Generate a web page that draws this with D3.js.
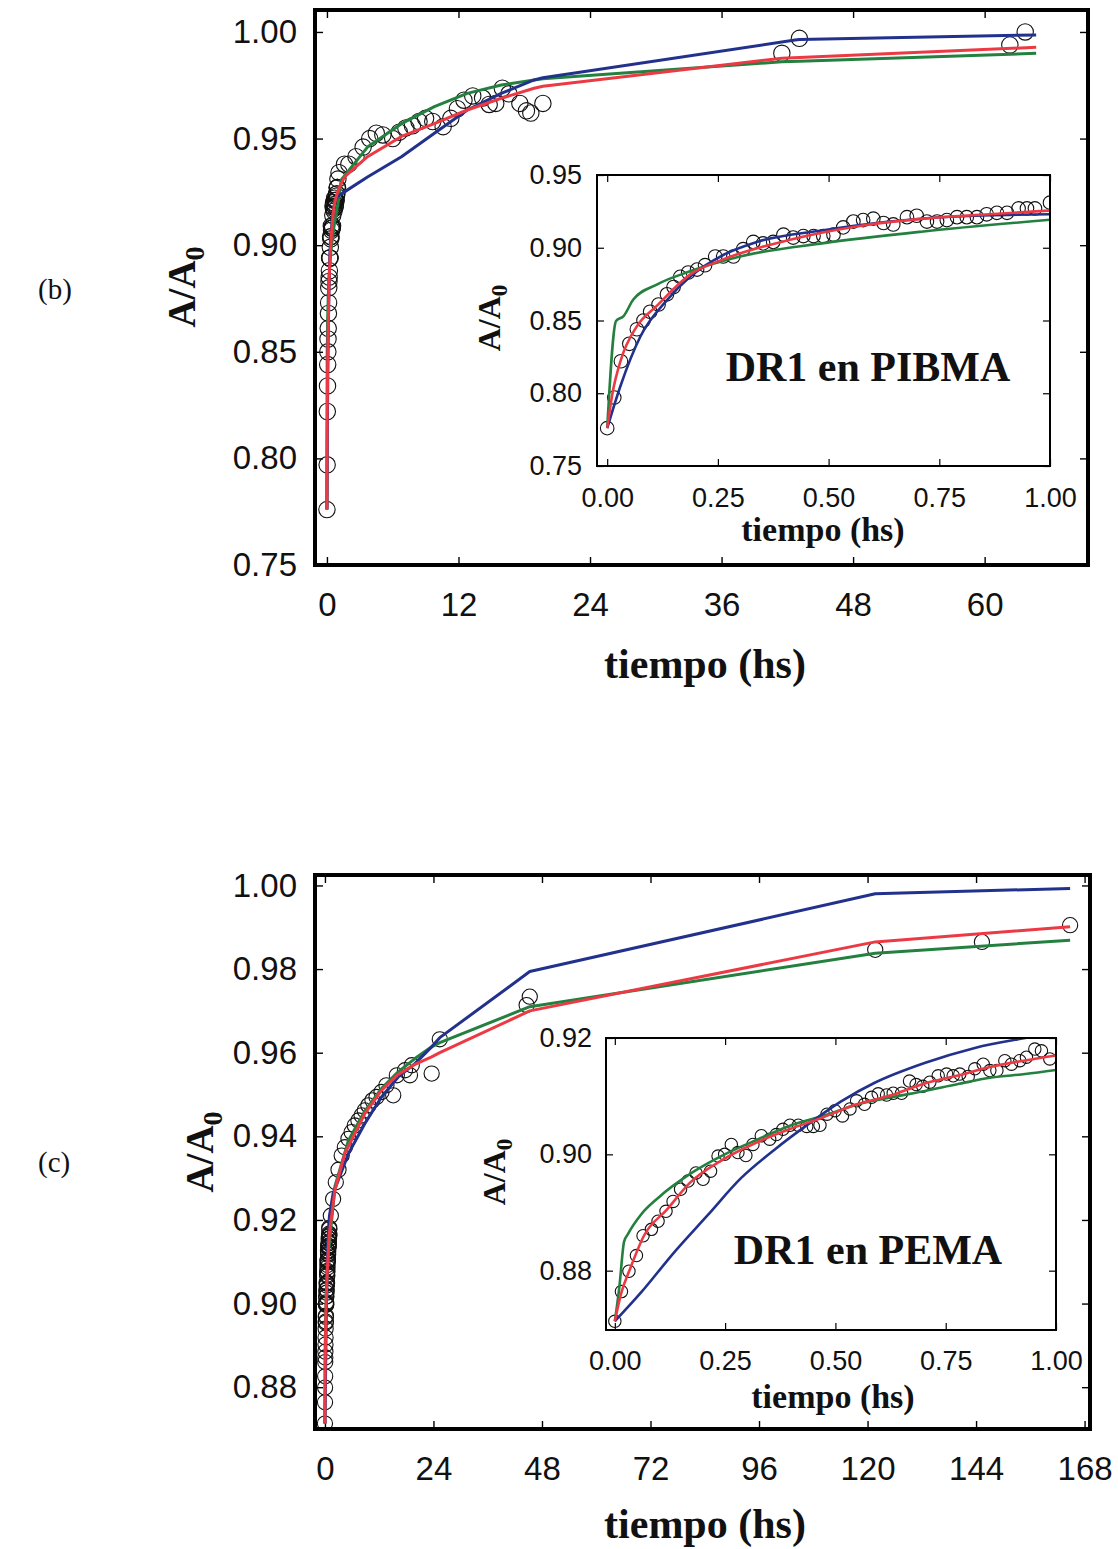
<!DOCTYPE html>
<html><head><meta charset="utf-8">
<script src="https://cdn.jsdelivr.net/npm/d3@7"></script>
<style>body{margin:0;background:#fff}</style>
</head><body>
<svg id="chart" width="1118" height="1549" xmlns="http://www.w3.org/2000/svg"></svg>
<script>
// ---------------- DATA ----------------
// Panel (b): DR1 en PIBMA  [tiempo (hs), A/A0]
const pibmaDataEarly = [[0.000,0.776],[0.016,0.797],[0.031,0.822],[0.050,0.834],[0.067,0.844],[0.082,0.850],[0.097,0.856],[0.116,0.861],[0.135,0.868],[0.150,0.873],[0.165,0.880],[0.183,0.883],[0.203,0.885],[0.221,0.888],[0.244,0.894],[0.262,0.894],[0.285,0.894],[0.307,0.899],[0.330,0.904],[0.352,0.903],[0.375,0.904],[0.398,0.909],[0.420,0.907],[0.443,0.908],[0.466,0.908],[0.488,0.908],[0.511,0.909],[0.533,0.914],[0.556,0.918],[0.578,0.919],[0.601,0.920],[0.624,0.917],[0.646,0.916],[0.677,0.921],[0.699,0.922],[0.722,0.918],[0.745,0.918],[0.767,0.919],[0.790,0.921],[0.812,0.921],[0.835,0.921],[0.857,0.923],[0.880,0.924],[0.903,0.924],[0.929,0.927],[0.948,0.927],[0.966,0.927],[1.000,0.931]];
const pibmaDataLate = [[1.1,0.934],[1.6,0.938],[2.0,0.938],[2.65,0.9415],[3.3,0.946],[3.9,0.950],[4.5,0.9525],[5.1,0.9517],[6.0,0.950],[6.6,0.953],[7.2,0.955],[7.8,0.956],[8.4,0.958],[9.0,0.9595],[9.65,0.958],[10.6,0.9556],[11.3,0.9595],[11.9,0.964],[12.5,0.968],[13.3,0.970],[14.2,0.969],[14.8,0.966],[15.4,0.9665],[16.0,0.9736],[16.6,0.971],[17.6,0.9665],[18.2,0.963],[18.6,0.962],[19.7,0.9665],[41.5,0.990],[43.1,0.997],[62.3,0.9939],[63.7,1.000]];
const pibmaBlueEarly = [[0,0.776],[0.03,0.805],[0.075,0.839],[0.135,0.864],[0.187,0.880],[0.262,0.895],[0.338,0.904],[0.488,0.912],[0.638,0.918],[0.788,0.9215],[1.0,0.923]];
const pibmaBlueLate = [[1.6,0.925],[3.7,0.932],[6.8,0.9415],[9.8,0.9525],[12.8,0.9634],[15.9,0.9712],[18.9,0.9775],[19.7,0.9785],[42.7,0.9962],[43.1,0.9965],[64.7,0.9986]];
const pibmaRedEarly = [[0,0.776],[0.012,0.800],[0.031,0.823],[0.067,0.846],[0.112,0.860],[0.187,0.8815],[0.262,0.892],[0.413,0.9055],[0.563,0.9146],[0.713,0.920],[0.863,0.923],[1.0,0.9256]];
const pibmaRedLate = [[1.6,0.932],[3.7,0.9415],[6.8,0.951],[9.8,0.957],[12.8,0.9634],[15.9,0.9689],[18.9,0.9736],[19.7,0.9745],[41.5,0.9877],[43.1,0.988],[64.7,0.9928]];
const pibmaGreenEarly = [[0,0.776],[0.020,0.8496],[0.037,0.853],[0.059,0.8644],[0.112,0.8747],[0.187,0.8838],[0.30,0.894],[0.489,0.9032],[0.714,0.9112],[1.0,0.9192]];
const pibmaGreenLate = [[1.3,0.9306],[3.7,0.946],[6.8,0.957],[9.8,0.965],[12.8,0.9712],[15.9,0.9751],[18.9,0.9775],[19.7,0.978],[41.5,0.986],[43.1,0.9863],[64.7,0.990]];

// Panel (c): DR1 en PEMA
const pemaDataEarly = [[0.000,0.8713],[0.015,0.8764],[0.032,0.8799],[0.049,0.8826],[0.064,0.8860],[0.083,0.8871],[0.098,0.8885],[0.116,0.8902],[0.132,0.8919],[0.149,0.8940],[0.166,0.8954],[0.184,0.8968],[0.200,0.8957],[0.217,0.8971],[0.234,0.8997],[0.249,0.9000],[0.264,0.9017],[0.279,0.9003],[0.297,0.8998],[0.313,0.9017],[0.332,0.9032],[0.351,0.9026],[0.366,0.9034],[0.381,0.9043],[0.397,0.9050],[0.416,0.9050],[0.435,0.9048],[0.450,0.9048],[0.465,0.9050],[0.481,0.9069],[0.499,0.9075],[0.516,0.9066],[0.533,0.9078],[0.548,0.9092],[0.566,0.9086],[0.582,0.9098],[0.597,0.9104],[0.616,0.9102],[0.631,0.9105],[0.650,0.9105],[0.668,0.9126],[0.683,0.9120],[0.698,0.9117],[0.714,0.9124],[0.733,0.9135],[0.752,0.9138],[0.767,0.9135],[0.782,0.9138],[0.801,0.9134],[0.816,0.9147],[0.835,0.9155],[0.850,0.9144],[0.866,0.9144],[0.884,0.9161],[0.899,0.9155],[0.918,0.9161],[0.933,0.9167],[0.952,0.9181],[0.967,0.9178],[0.986,0.9164]];
const pemaDataLate = [[1.3,0.921],[1.8,0.925],[2.4,0.929],[3.0,0.932],[3.7,0.9354],[4.4,0.9374],[5.2,0.9394],[5.9,0.9410],[6.6,0.9426],[7.4,0.9438],[8.1,0.9450],[8.8,0.9462],[9.6,0.9474],[10.5,0.9486],[11.4,0.9494],[12.5,0.9506],[13.6,0.9522],[15.1,0.9498],[15.9,0.9546],[17.7,0.9558],[18.8,0.9546],[19.2,0.9570],[23.6,0.9550],[25.4,0.9632],[44.6,0.9714],[45.3,0.9734],[121.7,0.9846],[145.3,0.9865],[164.8,0.9905]];
const pemaBlueEarly = [[0,0.8713],[0.06,0.8763],[0.135,0.8832],[0.21,0.8895],[0.286,0.8959],[0.362,0.9008],[0.437,0.9051],[0.513,0.9091],[0.589,0.9123],[0.702,0.9157],[0.816,0.9183],[0.952,0.9203],[1.0,0.9210]];
const pemaBlueLate = [[1.8,0.9263],[5.2,0.9359],[8.8,0.9430],[12.5,0.9494],[16.2,0.9542],[19.9,0.9574],[23.6,0.9614],[25.4,0.9636],[45.3,0.9794],[121.7,0.998],[164.8,0.9993]];
const pemaRedEarly = [[0,0.8713],[0.014,0.876],[0.036,0.8806],[0.066,0.886],[0.118,0.8905],[0.17,0.8951],[0.245,0.8991],[0.32,0.902],[0.395,0.9043],[0.47,0.9063],[0.548,0.9086],[0.624,0.9101],[0.699,0.9121],[0.775,0.9135],[0.85,0.915],[0.926,0.9161],[1.0,0.917]];
const pemaRedLate = [[2.2,0.9271],[4.4,0.9359],[8.8,0.9454],[12.5,0.9510],[16.2,0.9548],[19.9,0.9572],[23.6,0.9590],[25.4,0.9600],[45.3,0.9700],[121.7,0.9865],[164.8,0.9901]];
const pemaGreenEarly = [[0,0.8713],[0.01,0.877],[0.021,0.885],[0.029,0.8862],[0.06,0.8897],[0.098,0.8925],[0.174,0.8968],[0.249,0.9000],[0.325,0.9026],[0.4,0.905],[0.476,0.9067],[0.552,0.9086],[0.627,0.9098],[0.703,0.9109],[0.778,0.9121],[0.854,0.9132],[0.93,0.9138],[1.0,0.9145]];
const pemaGreenLate = [[2.2,0.928],[5.2,0.939],[8.8,0.946],[12.5,0.9514],[16.2,0.9554],[19.9,0.9586],[23.6,0.9614],[25.4,0.9624],[45.3,0.9710],[121.7,0.9838],[164.8,0.9869]];

// Tick values
const pibmaMainXTicks = [0,12,24,36,48,60];
const pibmaMainYTicks = [0.75,0.80,0.85,0.90,0.95,1.00];
const pibmaInsetXTicks = [0,0.25,0.5,0.75,1.0];
const pibmaInsetYTicks = [0.75,0.80,0.85,0.90,0.95];
const pemaMainXTicks = [0,24,48,72,96,120,144,168];
const pemaMainYTicks = [0.88,0.90,0.92,0.94,0.96,0.98,1.00];
const pemaInsetXTicks = [0,0.25,0.5,0.75,1.0];
const pemaInsetYTicks = [0.88,0.90,0.92];

const xLabel = 'tiempo (hs)';
const panelLabels = ['(b)','(c)'];
const insetLabels = ['DR1 en PIBMA','DR1 en PEMA'];

// ---------------- DRAWING ----------------
const COL = {blue:'#22318c', red:'#ec3a44', green:'#23803f'};
const SANS = '"Liberation Sans", Arial, sans-serif';
const SERIF = '"Liberation Serif", "Times New Roman", serif';
const svg = d3.select('#chart');
svg.append('rect').attr('width',1118).attr('height',1549).attr('fill','#fff');

let clipN = 0;
function panel(o){
  const x = d3.scaleLinear().domain(o.xDom).range(o.xRange);
  const y = d3.scaleLinear().domain(o.yDom).range(o.yRange);
  const [x0,x1] = o.xRange, [y0,y1] = o.yRange;
  const g = svg.append('g');
  const cid = 'clip' + (clipN++);
  g.append('clipPath').attr('id',cid).append('rect')
    .attr('x',x0).attr('y',y1).attr('width',x1-x0).attr('height',y0-y1);
  g.append('rect').attr('x',x0).attr('y',y1).attr('width',x1-x0).attr('height',y0-y1).attr('fill','#fff');

  const ax = (gen, tx, ty) => {
    const a = g.append('g').attr('transform',`translate(${tx},${ty})`).call(gen);
    a.select('.domain').remove();
    a.selectAll('line').attr('stroke','#000').attr('stroke-width',o.tickW);
    a.selectAll('text').attr('font-family',SANS).attr('font-size',o.tickFont).attr('fill','#111');
    return a;
  };
  ax(d3.axisBottom(x).tickValues(o.xTicks).tickSize(-o.tl).tickPadding(o.xPad).tickFormat(o.xFmt), 0, y0);
  ax(d3.axisTop(x).tickValues(o.xTicks).tickSize(-o.tl).tickFormat(''), 0, y1);
  ax(d3.axisLeft(y).tickValues(o.yTicks).tickSize(-o.tl).tickPadding(o.yPad).tickFormat(o.yFmt), x0, 0);
  ax(d3.axisRight(y).tickValues(o.yTicks).tickSize(-o.tl).tickFormat(''), x1, 0);

  const plot = g.append('g').attr('clip-path',`url(#${cid})`);
  plot.selectAll('circle.pt').data(o.data).enter().append('circle')
    .attr('cx',d=>x(d[0])).attr('cy',d=>y(d[1])).attr('r',o.r)
    .attr('fill','none').attr('stroke','#111').attr('stroke-width',1.1);
  const line = d3.line().x(d=>x(d[0])).y(d=>y(d[1])).curve(o.curve);
  [['green',o.green],['blue',o.blue],['red',o.red]].forEach(([c,d])=>{
    plot.append('path').attr('d',line(d)).attr('fill','none')
      .attr('stroke',COL[c]).attr('stroke-width',o.lw).attr('stroke-linejoin','round');
  });
  g.append('rect').attr('x',x0).attr('y',y1).attr('width',x1-x0).attr('height',y0-y1)
    .attr('fill','none').attr('stroke','#000').attr('stroke-width',o.frameW);

  g.append('text').attr('x',o.xTitle[0]).attr('y',o.xTitle[1]).attr('text-anchor','middle')
    .attr('font-family',SERIF).attr('font-weight','bold').attr('font-size',o.titleFont).attr('fill','#111')
    .text(xLabel);
  const yt = g.append('text').attr('transform',`translate(${o.yTitle[0]},${o.yTitle[1]}) rotate(-90)`)
    .attr('text-anchor','middle').attr('font-family',SERIF).attr('font-weight','bold')
    .attr('font-size',o.yTitleFont).attr('fill','#111');
  yt.append('tspan').text('A/A');
  yt.append('tspan').attr('font-size',o.yTitleFont*0.72).attr('dy',o.yTitleFont*0.22).text('0');
  return g;
}

const f2 = d3.format('.2f');
const fInt = d3.format('d');

// Panel (b) main
panel({xDom:[-1.09,69.43], xRange:[315,1088], yDom:[0.75,1.0103], yRange:[565,10],
  xTicks:pibmaMainXTicks, yTicks:pibmaMainYTicks, xFmt:fInt, yFmt:f2,
  tl:8, tickW:1.4, tickFont:33, xPad:28, yPad:18, frameW:4, r:8.2, lw:3, curve:d3.curveLinear,
  data:pibmaDataEarly.concat(pibmaDataLate),
  blue:pibmaBlueEarly.concat(pibmaBlueLate), red:pibmaRedEarly.concat(pibmaRedLate), green:pibmaGreenEarly.concat(pibmaGreenLate),
  xTitle:[705,678], titleFont:42, yTitle:[195,287], yTitleFont:39});
// Panel (b) inset
panel({xDom:[-0.023,1.0], xRange:[597,1050], yDom:[0.75,0.95], yRange:[466,175],
  xTicks:pibmaInsetXTicks, yTicks:pibmaInsetYTicks, xFmt:f2, yFmt:f2,
  tl:7, tickW:1.2, tickFont:27, xPad:22, yPad:15, frameW:2, r:6.8, lw:2.6, curve:d3.curveMonotoneX,
  data:pibmaDataEarly, blue:pibmaBlueEarly, red:pibmaRedEarly, green:pibmaGreenEarly,
  xTitle:[823,541], titleFont:34, yTitle:[500,318], yTitleFont:32});

// Panel (c) main
panel({xDom:[-2.2,169.2], xRange:[315,1090], yDom:[0.87,1.0025], yRange:[1429,875],
  xTicks:pemaMainXTicks, yTicks:pemaMainYTicks, xFmt:fInt, yFmt:f2,
  tl:8, tickW:1.4, tickFont:33, xPad:28, yPad:18, frameW:4, r:7.6, lw:3, curve:d3.curveLinear,
  data:pemaDataEarly.concat(pemaDataLate),
  blue:pemaBlueEarly.concat(pemaBlueLate), red:pemaRedEarly.concat(pemaRedLate), green:pemaGreenEarly.concat(pemaGreenLate),
  xTitle:[705,1538], titleFont:42, yTitle:[213,1152], yTitleFont:39});
// Panel (c) inset
panel({xDom:[-0.02,1.0], xRange:[606,1056], yDom:[0.8698,0.92], yRange:[1330,1038],
  xTicks:pemaInsetXTicks, yTicks:pemaInsetYTicks, xFmt:f2, yFmt:f2,
  tl:7, tickW:1.2, tickFont:27, xPad:21, yPad:14, frameW:2, r:6.2, lw:2.6, curve:d3.curveMonotoneX,
  data:pemaDataEarly, blue:pemaBlueEarly, red:pemaRedEarly, green:pemaGreenEarly,
  xTitle:[833,1408], titleFont:34, yTitle:[505,1172], yTitleFont:32});

// Inset labels
[[868,381],[868,1264]].forEach((p,i)=>{
  svg.append('text').attr('x',p[0]).attr('y',p[1]).attr('text-anchor','middle')
    .attr('font-family',SERIF).attr('font-weight','bold').attr('font-size',42).attr('fill','#111')
    .text(insetLabels[i]);
});
// Panel labels
[[38,299],[38,1172]].forEach((p,i)=>{
  svg.append('text').attr('x',p[0]).attr('y',p[1])
    .attr('font-family',SERIF).attr('font-size',29).attr('fill','#111').text(panelLabels[i]);
});
</script>
</body></html>
